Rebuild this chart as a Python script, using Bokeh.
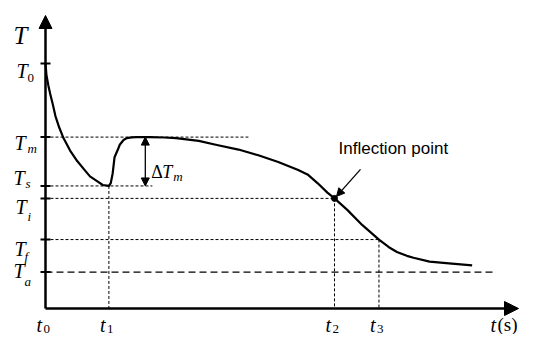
from bokeh.plotting import figure
from bokeh.models import Range1d, Arrow, NormalHead
from bokeh.core.properties import value
from bokeh.embed import file_html
from bokeh.resources import INLINE

# ---------------- data (schematic, arbitrary units) ----------------
t_ticks = [0.0, 13.4, 61.1, 70.5]            # t0, t1, t2, t3 (s)
t_tick_subs = ["0", "1", "2", "3"]
T_levels = [128.0, 89.5, 64.0, 57.5, 36.0, 19.0]   # T0, Tm, Ts, Ti, Tf, Ta
T_level_subs = ["0", "m", "s", "i", "f", "a"]
t_axis_end = 100.0
T_axis_end = 153.0

curve_t = [0.0, 0.2, 0.6, 1.0, 1.5, 2.1, 2.9, 3.8, 5.2, 6.7,
           8.2, 9.4, 10.9, 12.1, 13.4, 13.8, 14.2, 14.6, 15.3, 15.7,
           16.5, 17.2, 18.2, 19.2, 22.0, 25.1, 27.6, 32.4, 36.0, 40.8,
           45.0, 49.2, 53.3, 55.4, 57.5, 59.6, 61.1, 63.8, 67.0, 70.5,
           72.6, 74.3, 76.4, 77.8, 81.2, 84.7, 90.2]
curve_T = [128.0, 122.0, 116.5, 112.0, 107.0, 100.5, 94.5, 89.0, 82.5, 77.0,
           72.5, 69.0, 66.5, 64.5, 64.0, 65.5, 70.5, 79.0, 83.0, 85.5,
           88.0, 89.0, 89.4, 89.5, 89.5, 89.3, 89.0, 87.5, 85.5, 83.0,
           80.0, 76.5, 72.5, 70.0, 65.5, 60.5, 57.5, 51.5, 43.5, 36.0,
           32.0, 29.5, 27.5, 26.5, 24.5, 23.7, 22.5]

# how far the horizontal guide lines reach (Tm, Ts, Ti, Tf, Ta)
guide_ends = [42.9, 22.6, 61.1, 70.5, 95.0]
dTm_t = 21.1       # position of the ΔTm double arrow

# ---------------- layout ----------------
W, H = 521, 334
PX_S, PX_T = 4.73, 1.915        # pixels per unit
OX, OY = 45, 308                # origin in canvas px (from left / from top)

def dx(px):
    return px / PX_S

def dy(px):
    return px / PX_T

p = figure(width=W, height=H, output_backend="svg", toolbar_location=None,
           x_axis_type=None, y_axis_type=None,
           x_range=Range1d(-OX / PX_S, (W - OX) / PX_S),
           y_range=Range1d(-(H - OY) / PX_T, OY / PX_T),
           min_border=0, min_border_left=0, min_border_right=0,
           min_border_top=0, min_border_bottom=0)
p.outline_line_color = None
p.background_fill_color = "white"
p.border_fill_color = "white"

T0, Tm, Ts, Ti, Tf, Ta = T_levels
t0, t1, t2, t3 = t_ticks

# guide lines
p.segment(x0=[0, 0, 0, 0], y0=[Tm, Ts, Ti, Tf], x1=guide_ends[:4], y1=[Tm, Ts, Ti, Tf],
          line_color="black", line_width=1, line_dash="3 2")
p.segment(x0=[0], y0=[Ta], x1=[guide_ends[4]], y1=[Ta],
          line_color="black", line_width=1.3, line_dash="7 4")
p.segment(x0=[t1, t2, t3], y0=[Ts, Ti, Tf], x1=[t1, t2, t3], y1=[0, 0, 0],
          line_color="black", line_width=1, line_dash="3 2")

# curve
p.line(curve_t, curve_T, line_color="black", line_width=2.2, line_join="round")

# axes
p.add_layout(Arrow(end=NormalHead(size=13, fill_color="black", line_color="black"),
                   x_start=0, y_start=0, x_end=0, y_end=T_axis_end,
                   line_color="black", line_width=2.5))
p.add_layout(Arrow(end=NormalHead(size=14, fill_color="black", line_color="black"),
                   x_start=0, y_start=0, x_end=t_axis_end, y_end=0,
                   line_color="black", line_width=2.5))
p.scatter(x=[0] * len(T_levels), y=T_levels, marker="dash", size=10,
          line_color="black", line_width=2)

# ΔTm arrow
p.add_layout(Arrow(start=NormalHead(size=8, fill_color="black", line_color="black"),
                   end=NormalHead(size=8, fill_color="black", line_color="black"),
                   x_start=dTm_t, y_start=Ts, x_end=dTm_t, y_end=Tm,
                   line_color="black", line_width=1.3))

# inflection point marker + arrow
p.scatter(x=[t2], y=[Ti], size=6, fill_color="black", line_color="black")
p.add_layout(Arrow(end=NormalHead(size=8, fill_color="black", line_color="black"),
                   x_start=t2 + dx(26), y_start=Ti + dy(29), x_end=t2 + dx(2), y_end=Ti + dy(2),
                   line_color="black", line_width=1.3))

serif = value("Liberation Serif")

# T level labels
main_xoff = [-29, -31, -32, -30, -31, -32]
main_yoff = [8, 6, -8, 9, 9, -1]
sub_xoff = [-18, -18, -20, -18, -21, -21]
sub_yoff = [15, 11, -2, 18, 17, 9]
p.text(x=[0] * 6, y=T_levels, text=["T"] * 6, x_offset=main_xoff, y_offset=main_yoff,
       text_font=serif, text_font_style="italic", text_font_size="20px",
       text_baseline="alphabetic", text_align="left", text_color="black")
p.text(x=[0], y=[T0], text=[T_level_subs[0]], x_offset=sub_xoff[:1], y_offset=sub_yoff[:1],
       text_font=serif, text_font_size="13px",
       text_baseline="alphabetic", text_align="left", text_color="black")
p.text(x=[0] * 5, y=T_levels[1:], text=T_level_subs[1:], x_offset=sub_xoff[1:], y_offset=sub_yoff[1:],
       text_font=serif, text_font_style="italic", text_font_size="13px",
       text_baseline="alphabetic", text_align="left", text_color="black")

# axis title T
p.text(x=[0], y=[T_axis_end], text=["T"], x_offset=[-32], y_offset=[20],
       text_font=serif, text_font_style="italic", text_font_size="25px",
       text_baseline="alphabetic", text_align="left", text_color="black")

# t tick labels
p.text(x=t_ticks, y=[0] * 4, text=["t"] * 4, x_offset=[-9] * 4, y_offset=[16] * 4,
       text_font=serif, text_font_style="italic", text_font_size="20px",
       text_baseline="alphabetic", text_align="left", text_color="black")
p.text(x=t_ticks, y=[0] * 4, text=t_tick_subs, x_offset=[-2] * 4, y_offset=[20] * 4,
       text_font=serif, text_font_size="13px",
       text_baseline="alphabetic", text_align="left", text_color="black")

# t(s)
p.text(x=[t_axis_end], y=[0], text=["t"], x_offset=[-28], y_offset=[16],
       text_font=serif, text_font_style="italic", text_font_size="20px",
       text_baseline="alphabetic", text_align="left", text_color="black")
p.text(x=[t_axis_end], y=[0], text=["(s)"], x_offset=[-21], y_offset=[16],
       text_font=serif, text_font_size="19px",
       text_baseline="alphabetic", text_align="left", text_color="black")

# ΔTm label
mid = (Tm + Ts) / 2
p.text(x=[dTm_t], y=[mid], text=["Δ"], x_offset=[6], y_offset=[10],
       text_font=serif, text_font_size="18px",
       text_baseline="alphabetic", text_align="left", text_color="black")
p.text(x=[dTm_t], y=[mid], text=["T"], x_offset=[17], y_offset=[10],
       text_font=serif, text_font_style="italic", text_font_size="18px",
       text_baseline="alphabetic", text_align="left", text_color="black")
p.text(x=[dTm_t], y=[mid], text=["m"], x_offset=[28], y_offset=[15],
       text_font=serif, text_font_style="italic", text_font_size="13px",
       text_baseline="alphabetic", text_align="left", text_color="black")

# Inflection point label
p.text(x=[t2], y=[Ti], text=["Inflection point"], x_offset=[4], y_offset=[-50],
       text_font=value("Liberation Sans"), text_font_size="17px",
       text_baseline="alphabetic", text_align="left", text_color="black")

open("out.html", "w").write(file_html(p, INLINE))
